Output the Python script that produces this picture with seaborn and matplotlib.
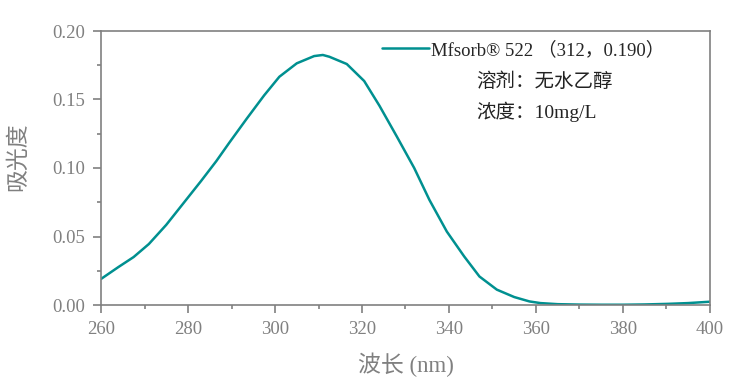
import matplotlib
matplotlib.use('Agg')
import seaborn as sns
import matplotlib.pyplot as plt
from matplotlib.ticker import MultipleLocator
import pandas as pd

# absorbance curve (nm, A)
wavelength = [260, 264, 267.5, 271, 275, 279, 283, 286.5, 289.5, 293.5, 297.5, 301, 305, 309, 311,
              312.5, 316.5, 320.5, 324, 328, 332, 335.5, 339.5, 343.5, 347, 351, 355, 358.5, 361,
              365, 370, 375, 380, 385, 390, 395, 400]
absorbance = [0.0190, 0.0277, 0.0350, 0.0445, 0.0585, 0.0745, 0.0905, 0.1050, 0.1185, 0.1360, 0.1530,
              0.1666, 0.1764, 0.1817, 0.1825, 0.1812, 0.1759, 0.1635, 0.1455, 0.1230, 0.1000, 0.0767,
              0.0536, 0.0354, 0.0208, 0.0112, 0.0058, 0.0026, 0.0014, 0.0006, 0.0003, 0.0002, 0.0002,
              0.0004, 0.0008, 0.0014, 0.0024]
legend_label = 'Mfsorb® 522 （312，0.190）'
note_lines = ['溶剂：无水乙醇', '浓度：10mg/L']
xlabel = '波长 (nm)'
ylabel = '吸光度'

df = pd.DataFrame({'wl': wavelength, 'A': absorbance})

sns.set_style('white')
plt.rcParams['font.family'] = ['Liberation Serif', 'Noto Sans CJK SC']
grey = '#808080'

fig = plt.figure(figsize=(7.4, 3.8), dpi=100)
ax = fig.add_axes([101/740, 1-305/380, 609/740, 274/380])

sns.lineplot(data=df, x='wl', y='A', ax=ax, color='#009090', linewidth=1.8, label=legend_label)
ax.lines[0].set_solid_joinstyle('round')

ax.set_xlim(260, 400)
ax.set_ylim(0, 0.20)
ax.xaxis.set_major_locator(MultipleLocator(20))
ax.xaxis.set_minor_locator(MultipleLocator(10))
ax.yaxis.set_major_locator(MultipleLocator(0.05))
ax.yaxis.set_minor_locator(MultipleLocator(0.025))
ax.yaxis.set_major_formatter(plt.FormatStrFormatter('%.2f'))

for s in ax.spines.values():
    s.set_color(grey)
    s.set_linewidth(1.2)
ax.tick_params(which='both', direction='out', color=grey, width=1.2, labelcolor=grey,
               labelsize=13.5, bottom=True, left=True, top=False, right=False)
ax.tick_params(which='major', length=5.5, pad=6)
ax.tick_params(which='minor', length=2.8)

ax.set_xlabel(xlabel, fontsize=16.5, color=grey)
ax.set_ylabel(ylabel, fontsize=16.5, color=grey)
ax.xaxis.set_label_coords(0.5, -0.175)
ax.yaxis.set_label_coords(-0.118, 0.54)

leg = ax.legend(loc='center left', bbox_to_anchor=(382/740, 1-50/380), bbox_transform=fig.transFigure,
                frameon=False, fontsize=13.5, handlelength=2.5, handletextpad=0.1,
                borderpad=0, borderaxespad=0)
for i, t in enumerate(note_lines):
    fig.text(476/740, 1-(82+30*i)/380, t, fontsize=14, va='center', ha='left', color='#222222')

fig.savefig('out.png', dpi=100)
